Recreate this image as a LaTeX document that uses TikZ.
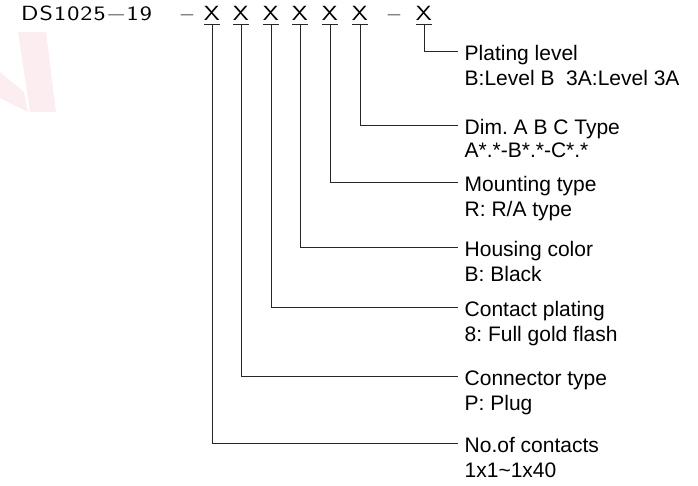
\documentclass[tikz,border=0pt]{standalone}
\usepackage{fontspec}
\usepackage{graphicx}
\setmainfont{Liberation Sans}
\definecolor{wm}{RGB}{252,238,240}
\newcommand{\hx}[1]{\scalebox{1.25}[1]{#1}}
\begin{document}
\frenchspacing
\begin{tikzpicture}[x=1pt,y=-1pt,
  hd/.style={font=\sffamily\fontsize{20.5}{20.5}\selectfont, inner sep=0pt, anchor=base},
  hdw/.style={font=\sffamily\fontsize{20.5}{20.5}\selectfont, inner sep=0pt, anchor=base west},
  lbl/.style={font=\fontsize{21}{25}\selectfont\frenchspacing, inner sep=0pt, anchor=base west},
  ln/.style={draw=black!85, line width=1pt}]
\useasboundingbox (0,0) rectangle (698,485);
% faint watermark
\fill[wm] (18,32) -- (46,32) -- (56,112) -- (30,112) -- cycle;
\fill[wm] (0,72) -- (24,92) -- (28,112) -- (0,98) -- cycle;
% header
\node[hdw] (pn) at (21,20) {\hx{\makebox[104.5pt][s]{D\hfill S\hfill 1\hfill 0\hfill 2\hfill 5\hfill −\hfill 1\hfill 9}}};
\node[hd] (d1) at (187,20) {−};
\node[hd] (x1) at (212,20) {\hx{X}};
\node[hd] (x2) at (241,20) {\hx{X}};
\node[hd] (x3) at (271,20) {\hx{X}};
\node[hd] (x4) at (300,20) {\hx{X}};
\node[hd] (x5) at (330,20) {\hx{X}};
\node[hd] (x6) at (360,20) {\hx{X}};
\node[hd] (d2) at (394,20) {−};
\node[hd] (x7) at (424,20) {\hx{X}};
\foreach \n in {x1,x2,x3,x4,x5,x6,x7}
  \draw[ln] ([shift={(-8pt,-4pt)}]\n.south) -- ([shift={(8pt,-4pt)}]\n.south);
% labels
\node[lbl] (t7) at (464.5,60.5) {Plating level};
\node[lbl] (s7) at ([yshift=-25pt]t7.base west) {B:Level B\ \ 3A:Level 3A};
\node[lbl] (t6) at (464.5,134.5) {Dim. A B C Type};
\node[lbl] (s6) at ([yshift=-23pt]t6.base west) {A*.*-B*.*-C*.*};
\node[lbl] (t5) at (464.5,191.5) {Mounting type};
\node[lbl] (s5) at ([yshift=-25pt]t5.base west) {R: R/A type};
\node[lbl] (t4) at (464.5,256.5) {Housing color};
\node[lbl] (s4) at ([yshift=-25pt]t4.base west) {B: Black};
\node[lbl] (t3) at (464.5,316.5) {Contact plating};
\node[lbl] (s3) at ([yshift=-25pt]t3.base west) {8: Full gold flash};
\node[lbl] (t2) at (464.5,385.5) {Connector type};
\node[lbl] (s2) at ([yshift=-25pt]t2.base west) {P: Plug};
\node[lbl] (t1) at (464.5,452.5) {No.of contacts};
\node[lbl] (s1) at ([yshift=-25pt]t1.base west) {1x1\textasciitilde 1x40};
% connectors
\foreach \a/\b in {x1/t1,x2/t2,x3/t3,x4/t4,x5/t5,x6/t6,x7/t7}
  \draw[ln] ([yshift=-4pt]\a.south) |- ([shift={(-7pt,9.5pt)}]\b.base west);
\end{tikzpicture}
\end{document}
